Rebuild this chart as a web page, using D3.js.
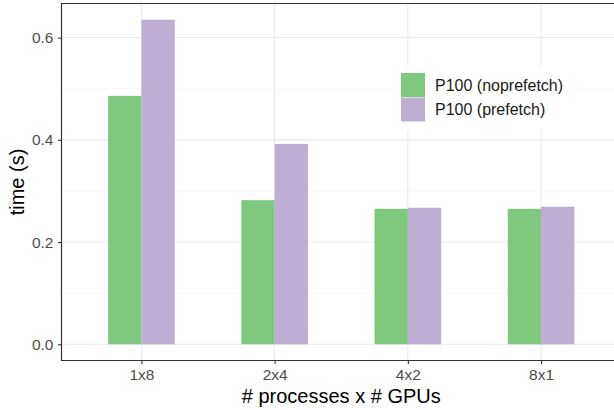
<!DOCTYPE html>
<html>
<head>
<meta charset="utf-8">
<script src="https://cdn.jsdelivr.net/npm/d3@7"></script>
<style>
  body { margin: 0; background: #fff; }
  svg { display: block; font-family: "Liberation Sans", Arial, sans-serif; }
</style>
</head>
<body>
<div id="chart"></div>
<script>
// data
const categories = ["1x8", "2x4", "4x2", "8x1"];
const seriesNames = ["P100 (noprefetch)", "P100 (prefetch)"];
const noprefetch = [0.486, 0.282, 0.265, 0.265];
const prefetch = [0.635, 0.392, 0.267, 0.269];
const yTicks = [0.0, 0.2, 0.4, 0.6];
const yMinorTicks = [0.1, 0.3, 0.5];

const colors = ["#7FC97F", "#BEAED4"];
const width = 614, height = 410;
const panel = { left: 61.5, top: 3.5, right: 621, bottom: 360.5 };

const svg = d3.select("#chart").append("svg")
    .attr("width", width)
    .attr("height", height);

// scales: ggplot-like continuous expansion
const step = (panel.right - panel.left) / (categories.length - 1 + 1.2);
const x = d3.scalePoint()
    .domain(categories)
    .range([panel.left + 0.6 * step, panel.right - 0.6 * step]);
const yMax = d3.max(prefetch.concat(noprefetch));
const pad = yMax * 0.05;
const y = d3.scaleLinear()
    .domain([-pad, yMax + pad])
    .range([panel.bottom, panel.top]);

const barW = step * 0.25;

// grid
const grid = svg.append("g");
grid.selectAll(".minor")
    .data(yMinorTicks)
    .enter().append("line")
    .attr("x1", panel.left).attr("x2", panel.right)
    .attr("y1", d => y(d)).attr("y2", d => y(d))
    .attr("stroke", "#F2F2F2").attr("stroke-width", 0.6);
grid.selectAll(".major")
    .data(yTicks)
    .enter().append("line")
    .attr("x1", panel.left).attr("x2", panel.right)
    .attr("y1", d => y(d)).attr("y2", d => y(d))
    .attr("stroke", "#EBEBEB").attr("stroke-width", 1.1);
grid.selectAll(".vmajor")
    .data(categories)
    .enter().append("line")
    .attr("x1", d => x(d)).attr("x2", d => x(d))
    .attr("y1", panel.top).attr("y2", panel.bottom)
    .attr("stroke", "#EBEBEB").attr("stroke-width", 1.1);

// bars
const series = [noprefetch, prefetch];
series.forEach((vals, si) => {
    svg.append("g").selectAll("rect")
        .data(vals)
        .enter().append("rect")
        .attr("x", (d, i) => x(categories[i]) - barW + si * barW)
        .attr("width", barW)
        .attr("y", d => y(d))
        .attr("height", d => y(0) - y(d))
        .attr("fill", colors[si]);
});

// axes
const yAxis = svg.append("g")
    .attr("transform", `translate(${panel.left},0)`)
    .call(d3.axisLeft(y).tickValues(yTicks).tickFormat(d3.format(".1f")).tickSize(3.5).tickPadding(4.5));
const xAxis = svg.append("g")
    .attr("transform", `translate(0,${panel.bottom})`)
    .call(d3.axisBottom(x).tickSize(3.5).tickPadding(5));
[yAxis, xAxis].forEach(ax => {
    ax.select(".domain").remove();
    ax.selectAll(".tick line").attr("stroke", "#333333").attr("stroke-width", 1.1);
    ax.selectAll(".tick text").attr("fill", "#4D4D4D").style("font-size", "15.5px")
        .style("font-family", "Liberation Sans, Arial, sans-serif");
});

// panel border lines (top, left, bottom)
svg.append("path")
    .attr("d", `M${panel.right},${panel.top}H${panel.left}V${panel.bottom}H${panel.right}`)
    .attr("fill", "none")
    .attr("stroke", "#333333")
    .attr("stroke-width", 1.2);

// titles
svg.append("text")
    .attr("x", (panel.left + panel.right) / 2)
    .attr("y", 402.5)
    .attr("text-anchor", "middle")
    .style("font-size", "20px")
    .text("# processes x # GPUs");
svg.append("text")
    .attr("transform", `translate(24,${(panel.top + panel.bottom) / 2}) rotate(-90)`)
    .attr("text-anchor", "middle")
    .style("font-size", "20px")
    .text("time (s)");

// legend
const legend = svg.append("g").attr("transform", "translate(392,66)");
legend.append("rect")
    .attr("width", 179).attr("height", 64)
    .attr("fill", "#fff");
legend.selectAll(".key")
    .data(seriesNames)
    .enter().append("rect")
    .attr("x", 9)
    .attr("y", (d, i) => 7 + i * 24.5)
    .attr("width", 24).attr("height", 24)
    .attr("fill", (d, i) => colors[i]);
legend.selectAll(".lab")
    .data(seriesNames)
    .enter().append("text")
    .attr("x", 43)
    .attr("y", (d, i) => 19 + i * 24.5)
    .attr("dy", "0.35em")
    .style("font-size", "16px")
    .attr("fill", "#1a1a1a")
    .text(d => d);
</script>
</body>
</html>
